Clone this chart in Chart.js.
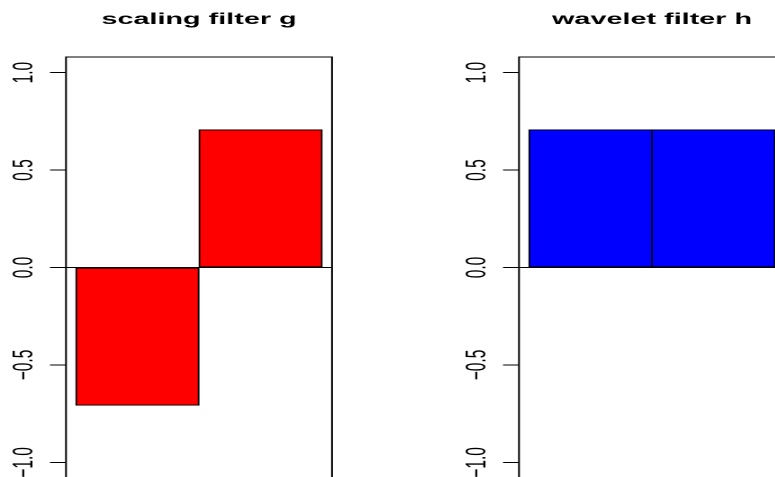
<!DOCTYPE html>
<html>
<head>
<meta charset="utf-8">
<script src="https://cdn.jsdelivr.net/npm/chart.js@4.4.0/dist/chart.umd.min.js"></script>
<style>
  html, body { margin: 0; padding: 0; background: #ffffff; }
  body { width: 775px; height: 477px; overflow: hidden; position: relative; }
  .panel { position: absolute; top: 0; height: 490px; transform-origin: 0 0; }
  .panel canvas { display: block; }
</style>
</head>
<body>
<div class="panel" id="p1" style="left:0px"><canvas id="c1"></canvas></div>
<div class="panel" id="p2" style="left:453px"><canvas id="c2"></canvas></div>
<script>
// ---- data ----
const categories = ['1', '2'];
const scalingFilterG = [-0.707, 0.707];
const waveletFilterH = [0.707, 0.707];
const yTickValues = [-1, -0.5, 0, 0.5, 1];
const yTickLabels = ['\u22121.0', '\u22120.5', '0.0', '0.5', '1.0'];
const panelTitles = ['scaling filter g', 'wavelet filter h'];
const yLimits = [-1.08, 1.08];
const xLimits = [-0.08, 2.08];

// ---- layout (the reference is horizontally stretched) ----
const S = 1.8;                 // horizontal stretch
const AXIS_W = 66 / S;         // left margin (to the plot box)
const BOX_W = 266 / S;         // plot box width
const CANVAS_W = 188;
const CANVAS_H = 490;
const TICK_LEN = 16 / S;
const LABEL_GAP = 34 / S;      // axis line to label baseline
const FONT = '"Liberation Sans", Arial, Helvetica, sans-serif';

document.querySelectorAll('.panel').forEach(p => {
  p.style.width = CANVAS_W + 'px';
  p.style.transform = 'scaleX(' + S + ')';
});
document.querySelectorAll('canvas').forEach(c => { c.width = CANVAS_W; c.height = CANVAS_H; });

const framePlugin = {
  id: 'frame',
  afterDatasetsDraw(chart) {
    const ctx = chart.ctx, a = chart.chartArea, ys = chart.scales.y;
    ctx.save();
    ctx.strokeStyle = '#000';
    ctx.lineWidth = 1;
    ctx.strokeRect(a.left, a.top, a.right - a.left, a.bottom - a.top);
    ctx.fillStyle = '#000';
    ctx.font = '15.5px ' + FONT;
    ctx.textAlign = 'center';
    ctx.textBaseline = 'alphabetic';
    ys.ticks.forEach((t) => {
      const y = ys.getPixelForValue(t.value);
      ctx.save();
      ctx.translate(ys.right - LABEL_GAP, y);
      ctx.rotate(-Math.PI / 2);
      ctx.fillText(yTickLabels[yTickValues.indexOf(t.value)], 0, 0);
      ctx.restore();
    });
    ctx.restore();
  }
};

function makePanel(canvasId, title, values, color) {
  const shared = (i, j) => j >= 0 && j < values.length && Math.sign(values[i]) === Math.sign(values[j]);
  new Chart(document.getElementById(canvasId), {
    type: 'bar',
    data: {
      datasets: [{
        data: values.map((v, i) => ({ x: i + 0.5, y: v })),
        backgroundColor: color,
        borderColor: '#000000',
        borderWidth: (c) => ({
          top: 1, bottom: 1,
          left: shared(c.dataIndex, c.dataIndex - 1) ? 0.75 : 1,
          right: shared(c.dataIndex, c.dataIndex + 1) ? 0.75 : 1
        }),
        borderSkipped: false,
        barPercentage: 1,
        categoryPercentage: 1
      }]
    },
    options: {
      responsive: false,
      animation: false,
      devicePixelRatio: 2,
      layout: { padding: { left: 0, right: CANVAS_W - AXIS_W - BOX_W, top: 0, bottom: 12 } },
      plugins: {
        legend: { display: false },
        tooltip: { enabled: false },
        title: {
          display: true,
          text: title,
          fullSize: false,
          color: '#000000',
          font: { family: FONT, size: 16, weight: 'bold', lineHeight: 1.2 },
          padding: { top: 10, bottom: 27.8 }
        }
      },
      scales: {
        x: {
          type: 'linear',
          display: false,
          offset: false,
          grid: { offset: false },
          bounds: 'data',
          min: xLimits[0],
          max: xLimits[1],
          afterBuildTicks: (s) => { s.ticks = categories.map((c, i) => ({ value: i + 0.5 })); }
        },
        y: {
          type: 'linear',
          position: 'left',
          bounds: 'data',
          min: yLimits[0],
          max: yLimits[1],
          afterBuildTicks: (s) => { s.ticks = yTickValues.map(v => ({ value: v })); },
          afterFit: (s) => { s.width = AXIS_W; },
          ticks: { display: false },
          border: { display: false },
          grid: {
            display: true,
            drawOnChartArea: true,
            drawTicks: true,
            tickLength: TICK_LEN,
            lineWidth: 1,
            tickWidth: 1,
            tickColor: '#000000',
            color: (c) => (c.tick && c.tick.value === 0) ? '#000000' : 'rgba(0,0,0,0)'
          }
        }
      }
    },
    plugins: [framePlugin]
  });
}

makePanel('c1', panelTitles[0], scalingFilterG, '#FF0000');
makePanel('c2', panelTitles[1], waveletFilterH, '#0000FF');
</script>
</body>
</html>
